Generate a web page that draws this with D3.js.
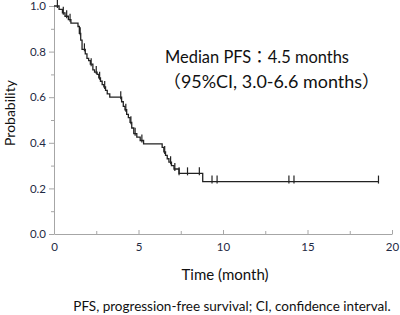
<!DOCTYPE html>
<html lang="en">
<head>
    <meta charset="UTF-8">
    <title>PFS Kaplan-Meier</title>
    <script src="https://cdn.jsdelivr.net/npm/d3@7"></script>
    <style>
        body { margin: 0; background: #fff; }
        text { font-family: Lato, "Open Sans", sans-serif; }
    </style>
</head>
<body>
    <div id="chart-space"></div>

    <script>
        // step times (months) and survival probability after each drop
        var eventTimes = [0.3, 0.5, 0.65, 0.85, 1.0, 1.42, 1.5, 1.58, 1.66, 1.85, 1.95, 2.05, 2.15, 2.3, 2.4, 2.55, 2.65, 2.75, 2.85, 2.95, 3.05, 3.15, 3.3,
                          4.0, 4.1, 4.2, 4.3, 4.4, 4.5, 4.6, 4.72, 4.9, 5.1, 5.3, 6.4, 6.5, 6.6, 6.7, 6.8, 6.95, 7.1, 7.4, 8.8];
        var survival = [0.985, 0.97, 0.955, 0.94, 0.925, 0.91, 0.88, 0.85, 0.81, 0.79, 0.77, 0.76, 0.745, 0.72, 0.71, 0.70, 0.685, 0.67, 0.655, 0.645, 0.63, 0.615, 0.60,
                        0.58, 0.56, 0.545, 0.525, 0.51, 0.49, 0.465, 0.44, 0.425, 0.41, 0.395, 0.38, 0.36, 0.345, 0.33, 0.315, 0.30, 0.285, 0.266, 0.23];
        var censorTimes = [0.2, 0.55, 0.75, 0.95, 1.55, 1.8, 2.2, 2.5, 2.7, 3.0, 3.95, 4.25, 4.55, 4.8, 5.2, 6.55, 6.9, 7.15, 7.4, 7.9, 8.6, 9.35, 9.65, 13.9, 14.2, 19.2];
        var lastTime = 19.2;

        var xTicks = [0, 5, 10, 15, 20];
        var xMinor = [2.5, 7.5, 12.5, 17.5];
        var yTicks = [0, 0.2, 0.4, 0.6, 0.8, 1.0];
        var yMinor = [0.1, 0.3, 0.5, 0.7, 0.9];

        var width = 400;
        var height = 315;
        var margin = {top: 6, right: 8, bottom: 81, left: 54};
        var chartWidth = width - margin.left - margin.right;
        var chartHeight = height - margin.top - margin.bottom;

        var svg = d3.select("#chart-space")
            .append("svg")
            .attr("width", width)
            .attr("height", height);

        var g = svg.append("g")
            .attr("transform", "translate(" + margin.left + "," + margin.top + ")");

        var xScale = d3.scaleLinear().domain([0, 20]).range([0, chartWidth]);
        var yScale = d3.scaleLinear().domain([0, 1]).range([chartHeight, 0]);

        //axes
        var axisColor = "#a6a6a6";
        var labelColor = "#1f2a44";

        var yAxis = g.append("g")
            .call(d3.axisLeft(yScale).tickValues(yTicks).tickFormat(d3.format(".1f")).tickSize(5).tickSizeOuter(0));
        g.append("g")
            .call(d3.axisLeft(yScale).tickValues(yMinor).tickFormat("").tickSize(3).tickSizeOuter(0))
            .select(".domain").remove();

        var xAxis = g.append("g")
            .attr("transform", "translate(0," + chartHeight + ")")
            .call(d3.axisBottom(xScale).tickValues(xTicks).tickSize(0).tickPadding(9).tickSizeOuter(0));
        g.append("g")
            .attr("transform", "translate(0," + chartHeight + ")")
            .call(d3.axisTop(xScale).tickValues(xTicks).tickFormat("").tickSize(4).tickSizeOuter(0))
            .select(".domain").remove();
        g.append("g")
            .attr("transform", "translate(0," + chartHeight + ")")
            .call(d3.axisTop(xScale).tickValues(xMinor).tickFormat("").tickSize(3).tickSizeOuter(0))
            .select(".domain").remove();

        g.selectAll(".domain, .tick line").attr("stroke", axisColor);
        g.selectAll(".tick text")
            .attr("fill", labelColor)
            .style("font-size", "11.5px")
            .style("font-family", "Lato, 'Open Sans', sans-serif");
        yAxis.selectAll(".tick text").attr("x", -8);

        //step curve
        var pts = [[0, 1]];
        eventTimes.forEach(function(t, i) { pts.push([t, survival[i]]); });
        pts.push([lastTime, survival[survival.length - 1]]);

        var line = d3.line()
            .x(function(d) { return xScale(d[0]); })
            .y(function(d) { return yScale(d[1]); })
            .curve(d3.curveStepAfter);

        g.append("path")
            .datum(pts)
            .attr("fill", "none")
            .attr("stroke", "#222")
            .attr("stroke-width", 1.3)
            .attr("d", line);

        function survAt(t) {
            var s = 1;
            for (var i = 0; i < eventTimes.length; i++) {
                if (eventTimes[i] <= t) s = survival[i];
            }
            return s;
        }

        g.selectAll(".censor")
            .data(censorTimes)
            .join("line")
            .attr("class", "censor")
            .attr("x1", function(d) { return xScale(d); })
            .attr("x2", function(d) { return xScale(d); })
            .attr("y1", function(d) { return yScale(survAt(d)) - 6; })
            .attr("y2", function(d) { return yScale(survAt(d)) + 2; })
            .attr("stroke", "#222")
            .attr("stroke-width", 1.2);

        //labels
        svg.append("text")
            .attr("transform", "translate(15,113) rotate(-90)")
            .attr("text-anchor", "middle")
            .attr("fill", "#111")
            .style("font-size", "14px")
            .text("Probability");

        svg.append("text")
            .attr("x", 225)
            .attr("y", 280)
            .attr("text-anchor", "middle")
            .attr("fill", "#111")
            .style("font-size", "15px")
            .text("Time (month)");

        svg.append("text")
            .attr("x", 232)
            .attr("y", 311)
            .attr("text-anchor", "middle")
            .attr("fill", "#111")
            .style("font-size", "13.5px")
            .text("PFS, progression-free survival; CI, confidence interval.");

        svg.append("text")
            .attr("x", 165)
            .attr("y", 63)
            .attr("fill", "#111")
            .attr("textLength", 184)
            .attr("lengthAdjust", "spacingAndGlyphs")
            .style("font-size", "17px")
            .style("font-family", "Lato, 'Noto Sans CJK JP', sans-serif")
            .text("Median PFS：4.5 months");

        svg.append("text")
            .attr("x", 163)
            .attr("y", 88)
            .attr("fill", "#111")
            .attr("textLength", 217)
            .attr("lengthAdjust", "spacingAndGlyphs")
            .style("font-size", "17px")
            .style("font-family", "Lato, 'Noto Sans CJK JP', sans-serif")
            .text("（95%CI, 3.0-6.6 months）");
    </script>
</body>
</html>
